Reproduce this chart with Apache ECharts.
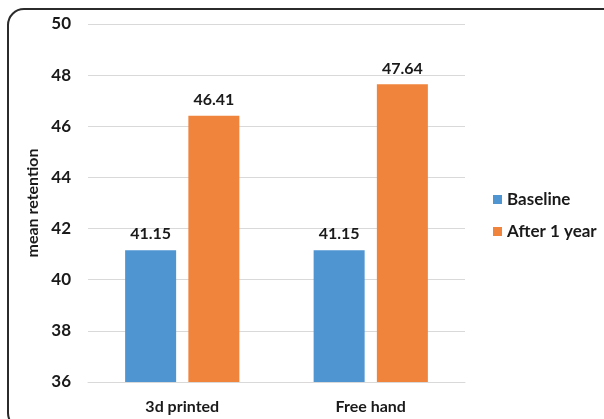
<!DOCTYPE html>
<html>
<head>
<meta charset="utf-8">
<script src="https://cdn.jsdelivr.net/npm/echarts@6/dist/echarts.min.js"></script>
<style>
  html, body { margin: 0; padding: 0; background: #fff; }
  #chart { width: 604px; height: 419px; }
</style>
</head>
<body>
<div id="chart"></div>
<script>
// Mean retention by fabrication technique
const categories = ['3d printed', 'Free hand'];
const baseline = [41.15, 41.15];
const afterOneYear = [46.41, 47.64];
const seriesNames = ['Baseline', 'After 1 year'];
const yTicks = { min: 36, max: 50, interval: 2 };

const FONT = 'Lato, "Open Sans", sans-serif';
const TEXT = '#1a1a1a';

const chart = echarts.init(document.getElementById('chart'), null, { renderer: 'canvas' });

const labelStyle = {
  show: true,
  position: 'top',
  distance: 8,
  fontFamily: FONT,
  fontWeight: 'bold',
  fontSize: 16,
  color: TEXT
};

chart.setOption({
  animation: false,
  backgroundColor: '#fff',
  graphic: [{
    type: 'rect',
    shape: { x: 8, y: 9, width: 610, height: 420, r: 16 },
    style: { fill: 'none', stroke: '#2b2b2b', lineWidth: 2 },
    silent: true,
    z: -1
  }],
  grid: { left: 88, right: 139, top: 24, bottom: 37 },
  legend: {
    orient: 'vertical',
    left: 488,
    top: 186,
    itemWidth: 9,
    itemHeight: 9,
    itemGap: 15,
    icon: 'rect',
    textStyle: { fontFamily: FONT, fontWeight: 'bold', fontSize: 17, color: TEXT, padding: [0, 0, 0, 0] },
    data: seriesNames
  },
  xAxis: {
    type: 'category',
    data: categories,
    axisLine: { show: true, lineStyle: { color: '#d9d9d9', width: 1 } },
    axisTick: { show: false },
    axisLabel: { fontFamily: FONT, fontWeight: 'bold', fontSize: 16, color: TEXT, margin: 17 }
  },
  yAxis: {
    type: 'value',
    min: yTicks.min,
    max: yTicks.max,
    interval: yTicks.interval,
    name: 'mean retention',
    nameLocation: 'middle',
    nameGap: 45,
    nameRotate: 90,
    nameTextStyle: { fontFamily: FONT, fontWeight: 'bold', fontSize: 16, color: TEXT },
    axisLine: { show: false },
    axisTick: { show: false },
    axisLabel: { fontFamily: FONT, fontWeight: 'bold', fontSize: 17, color: TEXT, margin: 17 },
    splitLine: { lineStyle: { color: '#d9d9d9', width: 1 } }
  },
  series: [
    {
      name: seriesNames[0],
      type: 'bar',
      data: baseline,
      barWidth: 51,
      barGap: '24%',
      itemStyle: { color: '#4f95d2' },
      label: labelStyle
    },
    {
      name: seriesNames[1],
      type: 'bar',
      data: afterOneYear,
      barWidth: 51,
      itemStyle: { color: '#f0843d' },
      label: labelStyle
    }
  ]
});
</script>
</body>
</html>
